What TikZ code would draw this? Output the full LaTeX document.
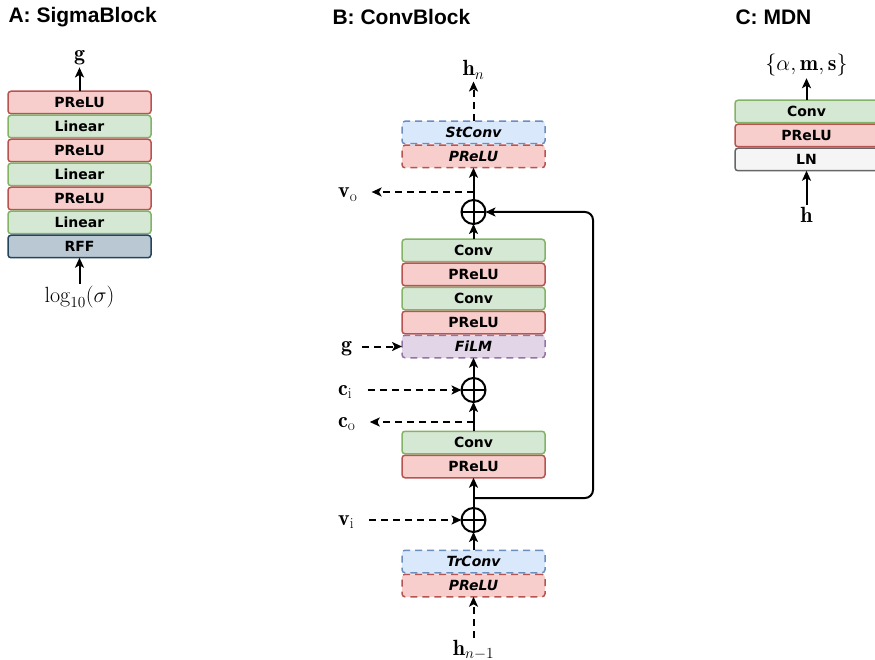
\RequirePackage{fix-cm}
\documentclass[tikz,border=0pt]{standalone}
\usepackage{amsmath}
\usepackage{fontspec}
\newfontfamily\boxfont{DejaVu Sans}
\newfontfamily\titlefont{Liberation Sans}
\usetikzlibrary{positioning,arrows.meta}
\definecolor{linfill}{HTML}{D5E8D4}
\definecolor{linline}{HTML}{82B366}
\definecolor{actfill}{HTML}{F8CECC}
\definecolor{actline}{HTML}{B85450}
\definecolor{trfill}{HTML}{DAE8FC}
\definecolor{trline}{HTML}{6C8EBF}
\definecolor{filmfill}{HTML}{E1D5E7}
\definecolor{filmline}{HTML}{9673A6}
\definecolor{rfffill}{HTML}{BAC8D3}
\definecolor{rffline}{HTML}{23445D}
\definecolor{lnfill}{HTML}{F5F5F5}
\definecolor{lnline}{HTML}{666666}
\tikzset{layer/.style={draw,rounded corners=3pt,line width=1.5pt,
    minimum width=143pt,minimum height=22.5pt,inner sep=0pt,outer sep=0pt,
    font=\boxfont\bfseries\fontsize{14}{16}\selectfont},
  lin/.style={layer,draw=linline,fill=linfill},
  act/.style={layer,draw=actline,fill=actfill},
  rff/.style={layer,draw=rffline,fill=rfffill},
  lnorm/.style={layer,draw=lnline,fill=lnfill},
  opt/.style={dash pattern=on 7pt off 5pt,
    font=\boxfont\bfseries\itshape\fontsize{14}{16}\selectfont},
  head/.style={anchor=west,font=\titlefont\bfseries\fontsize{21}{25}\selectfont},
  lbl/.style={inner sep=2pt,font=\fontsize{22}{26}\selectfont},
  side/.style={inner sep=0pt,anchor=base west,font=\fontsize{22}{26}\selectfont},
  plus/.style={circle,draw,line width=2pt,minimum size=24pt,inner sep=0pt,outer sep=0pt},
  arr/.style={line width=2pt,-{Stealth[length=10pt,width=9pt,inset=2.5pt]}},
  darr/.style={arr,dash pattern=on 7pt off 5pt}}
\begin{document}
\begin{tikzpicture}[x=1pt,y=-1pt]
\useasboundingbox (0,0) rectangle (875,660);
\clip (0,0) rectangle (875,660);
\node[head] (ta) at (5,17) {A: SigmaBlock};
\node[head] (tb) at (329,17) {B: ConvBlock};
\node[head] (tc) at (732,17) {C: MDN};
\node[act] (a1) at (79.5,102.5) {PReLU};
\node[lin,below=1.5pt of a1] (a2) {Linear};
\node[act,below=1.5pt of a2] (a3) {PReLU};
\node[lin,below=1.5pt of a3] (a4) {Linear};
\node[act,below=1.5pt of a4] (a5) {PReLU};
\node[lin,below=1.5pt of a5] (a6) {Linear};
\node[rff,below=1.5pt of a6] (a7) {RFF};
\node[lbl] (ga) at (79.5,58) {$\mathbf{g}$};
\node[lbl] (sig) at (79.5,297) {$\log_{10}(\sigma)$};
\draw[arr] (a1.north) -- (ga.south);
\draw[arr] (sig.north) -- (a7.south);
\node[lin,opt,draw=trline,fill=trfill] (st) at (473.5,132.5) {StConv};
\node[act,opt,below=1.5pt of st] (b1) {PReLU};
\node[plus] (p1) at (473.5,212) {};
\node[lin] (b2) at (473.5,250.5) {Conv};
\node[act,below=1.5pt of b2] (b3) {PReLU};
\node[lin,below=1.5pt of b3] (b4) {Conv};
\node[act,below=1.5pt of b4] (b5) {PReLU};
\node[layer,opt,draw=filmline,fill=filmfill,below=1.5pt of b5] (film) {FiLM};
\node[plus] (p2) at (473.5,390) {};
\node[lin] (b6) at (473.5,442.5) {Conv};
\node[act,below=1.5pt of b6] (b7) {PReLU};
\node[plus] (p3) at (473.5,520) {};
\node[lin,opt,draw=trline,fill=trfill] (tr) at (473.5,561.5) {TrConv};
\node[act,opt,below=1.5pt of tr] (b8) {PReLU};
\foreach \p in {p1,p2,p3}
  \draw[line width=2pt] (\p.north) -- (\p.south) (\p.west) -- (\p.east);
\node[lbl] (hn) at (473.5,70) {$\mathbf{h}_n$};
\node[lbl] (hm) at (473.5,650) {$\mathbf{h}_{n-1}$};
\node[side] (vo) at (338,198) {$\mathbf{v}_\mathrm{o}$};
\node[side] (gb) at (341,351) {$\mathbf{g}$};
\node[side] (ci) at (338,395) {$\mathbf{c}_\mathrm{i}$};
\node[side] (co) at (338,427) {$\mathbf{c}_\mathrm{o}$};
\node[side] (vi) at (338,525) {$\mathbf{v}_\mathrm{i}$};
\coordinate (vob) at (473.5,192);
\coordinate (cob) at (473.5,422);
\coordinate (res) at (473.5,498);
\coordinate (rx) at (593,0);
\draw[darr] (st.north) -- (hn.south);
\draw[arr] (p1.north) -- (b1.south);
\draw[darr,shorten >=14pt] (vob) -- (vob -| vo.east);
\draw[arr] (b2.north) -- (p1.south);
\draw[darr,shorten <=10pt] (gb.east |- film.west) -- (film.west);
\draw[arr] (p2.north) -- (film.south);
\draw[darr,shorten <=15pt] (ci.east |- p2.west) -- (p2.west);
\draw[arr] (b6.north) -- (p2.south);
\draw[darr,shorten >=14pt] (cob) -- (cob -| co.east);
\draw[arr] (p3.north) -- (b7.south);
\draw[arr,rounded corners=8pt] (res) -- (res -| rx) -- (p1 -| rx) -- (p1.east);
\draw[darr,shorten <=15pt] (vi.east |- p3.west) -- (p3.west);
\draw[arr] (tr.north) -- (p3.south);
\draw[darr] (hm.north) -- (b8.south);
\node[lin] (c1) at (806.5,111.5) {Conv};
\node[act,below=1.5pt of c1] (c2) {PReLU};
\node[lnorm,below=1.5pt of c2] (c3) {LN};
\node[lbl] (out) at (806.5,65) {$\{\alpha,\mathbf{m},\mathbf{s}\}$};
\node[lbl] (hc) at (806.5,215) {$\mathbf{h}$};
\draw[arr] (c1.north) -- (out.south);
\draw[arr] (hc.north) -- (c3.south);
\end{tikzpicture}
\end{document}
